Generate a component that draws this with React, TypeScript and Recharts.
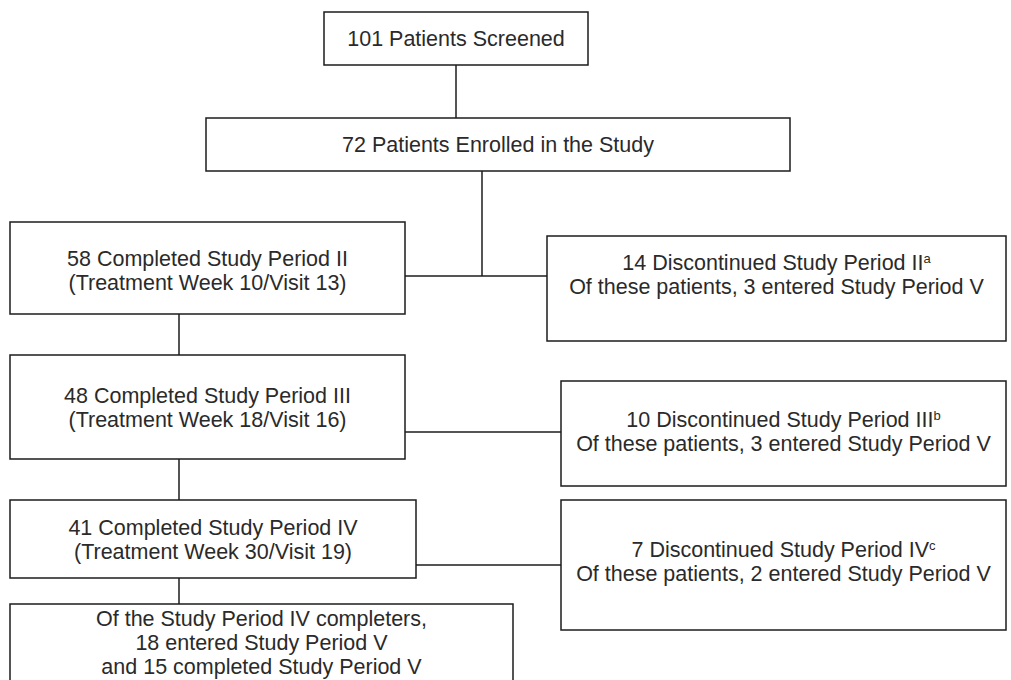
import { ScatterChart, XAxis, YAxis, Scatter, ReferenceArea, ReferenceLine } from "recharts";

const W = 1011;
const H = 680;

// patient flow counts
const screened = 101;
const enrolled = 72;
const periods = ["II", "III", "IV"];
const completed = [58, 48, 41];
const treatmentWeeks = [10, 18, 30];
const visits = [13, 16, 19];
const discontinued = [14, 10, 7];
const footnotes = ["a", "b", "c"];
const discEnteredV = [3, 3, 2];
const periodVEntered = 18;
const periodVCompleted = 15;

type Line = { text: string; sup?: string };

const boxText: Line[][] = [
  [{ text: `${screened} Patients Screened` }],
  [{ text: `${enrolled} Patients Enrolled in the Study` }],
  ...periods.flatMap((p, i) => [
    [
      { text: `${completed[i]} Completed Study Period ${p}` },
      { text: `(Treatment Week ${treatmentWeeks[i]}/Visit ${visits[i]})` },
    ],
    [
      { text: `${discontinued[i]} Discontinued Study Period ${p}`, sup: footnotes[i] },
      { text: `Of these patients, ${discEnteredV[i]} entered Study Period V` },
    ],
  ]),
  [
    { text: "Of the Study Period IV completers," },
    { text: `${periodVEntered} entered Study Period V` },
    { text: `and ${periodVCompleted} completed Study Period V` },
  ],
];

// box geometry: x1, x2, y1, y2, text centre y (page pixels)
const boxLayout = [
  [324, 588, 12, 65, 39],
  [206, 790, 118, 171, 145],
  [10, 405, 222, 314, 271],
  [547, 1006, 236, 341, 275],
  [10, 405, 355, 459, 408],
  [561, 1006, 381, 486, 432],
  [10, 416, 500, 578, 540],
  [561, 1006, 500, 630, 562],
  [10, 513, 604, 720, 643],
];

// connector segments: x1, y1, x2, y2
const connectors = [
  [456, 65, 456, 118],
  [482, 171, 482, 276],
  [405, 276, 547, 276],
  [179, 314, 179, 355],
  [405, 432, 561, 432],
  [179, 459, 179, 500],
  [416, 565, 561, 565],
  [179, 578, 179, 604],
];

const FONT = 21.5;
const LINE_H = 24;
const INK = "#1c1c1c";
const TEXT = "#2a2a2a";

const textPoints = boxLayout.map((b, i) => ({
  x: (b[0] + b[1]) / 2,
  y: b[4],
  lines: boxText[i],
}));

function BoxLabel(props: any) {
  const { cx, cy, payload } = props;
  const lines: Line[] = payload.lines;
  const top = cy - ((lines.length - 1) * LINE_H) / 2;
  return (
    <g>
      {lines.map((l, k) => (
        <text
          key={k}
          x={cx}
          y={top + k * LINE_H}
          textAnchor="middle"
          dominantBaseline="central"
          fontFamily="'Liberation Sans', Arial, sans-serif"
          fontSize={FONT}
          fill={TEXT}
        >
          {l.text}
          {l.sup && (
            <tspan fontSize={13} dy={-5}>
              {l.sup}
            </tspan>
          )}
        </text>
      ))}
    </g>
  );
}

export default function App() {
  return (
    <div style={{ position: "absolute", left: 0, top: 0, width: W, height: H, background: "#fff" }}>
      <ScatterChart width={W} height={H} margin={{ top: 0, right: 0, bottom: 0, left: 0 }}>
        <XAxis type="number" dataKey="x" domain={[0, W]} hide />
        <YAxis type="number" dataKey="y" domain={[0, H]} reversed hide />
        {connectors.map((c, i) => (
          <ReferenceLine
            key={`c${i}`}
            segment={[
              { x: c[0], y: c[1] },
              { x: c[2], y: c[3] },
            ]}
            stroke={INK}
            strokeWidth={1.5}
            ifOverflow="visible"
          />
        ))}
        {boxLayout.map((b, i) => (
          <ReferenceArea
            key={`b${i}`}
            x1={b[0]}
            x2={b[1]}
            y1={b[2]}
            y2={b[3]}
            fill="#fff"
            fillOpacity={1}
            stroke={INK}
            strokeWidth={1.5}
            ifOverflow="hidden"
          />
        ))}
        <Scatter data={textPoints} shape={BoxLabel} isAnimationActive={false} />
      </ScatterChart>
    </div>
  );
}
